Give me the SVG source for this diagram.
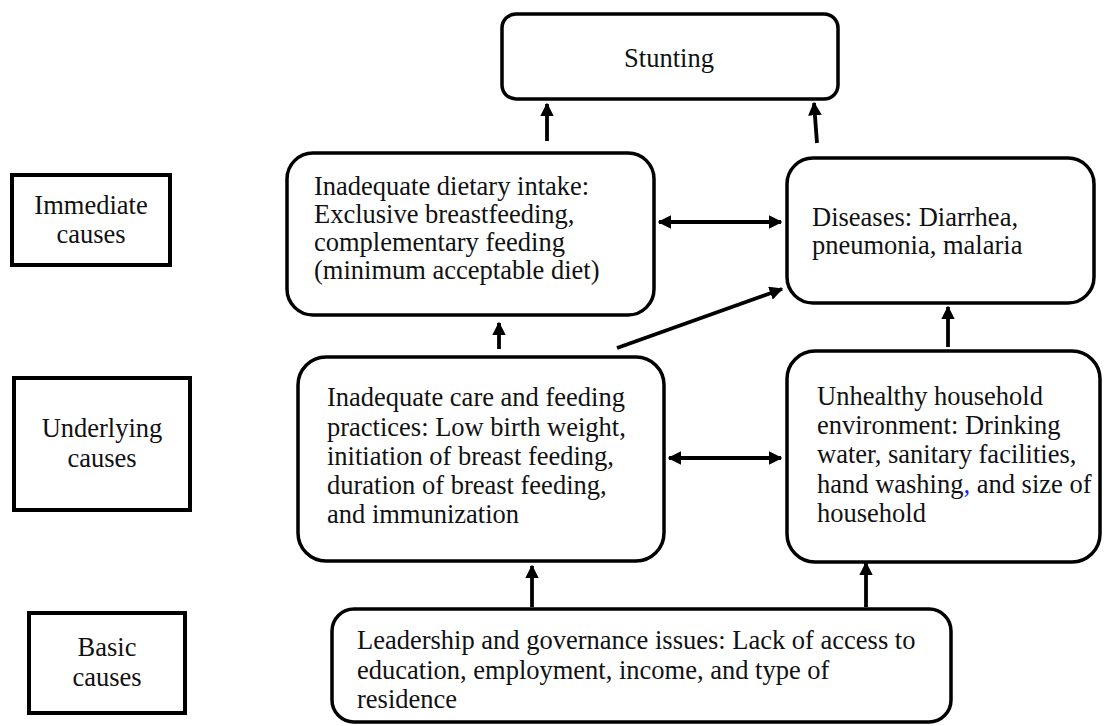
<svg xmlns="http://www.w3.org/2000/svg" width="1109" height="726" viewBox="0 0 1109 726">
<defs>
<marker id="ah" viewBox="0 0 10 10" refX="9" refY="5" markerWidth="3.6" markerHeight="3.6" orient="auto-start-reverse" markerUnits="strokeWidth">
<path d="M0,0 L10,5 L0,10 z" fill="#000"/>
</marker>
<style>
.box{fill:#fff;stroke:#000;stroke-width:3.5}
.lbl{fill:#fff;stroke:#000;stroke-width:4}
text{font-family:"Liberation Serif","Times New Roman",serif;font-size:26.5px;fill:#111}
.c{text-anchor:middle}
.conn line{stroke:#000;stroke-width:3.8;marker-end:url(#ah)}
.conn line.dbl{marker-start:url(#ah)}
</style>
</defs>
<rect width="1109" height="726" fill="#fff"/>

<g id="stunting">
<rect class="box" x="502" y="14" width="336" height="85" rx="14"/>
<text class="c" x="669" y="67">Stunting</text>
</g>

<g id="immediate-causes">
<rect class="lbl" x="12" y="175" width="158" height="90"/>
<text class="c" x="91" y="214">Immediate</text>
<text class="c" x="91" y="243">causes</text>
</g>

<g id="underlying-causes">
<rect class="lbl" x="14" y="378" width="176" height="132"/>
<text class="c" x="102" y="437">Underlying</text>
<text class="c" x="102" y="467">causes</text>
</g>

<g id="basic-causes">
<rect class="lbl" x="29" y="613" width="156" height="100"/>
<text class="c" x="107" y="656">Basic</text>
<text class="c" x="107" y="686">causes</text>
</g>

<g id="dietary">
<rect class="box" x="287" y="153" width="367" height="162" rx="26"/>
<text x="314" y="195">Inadequate dietary intake:</text>
<text x="314" y="223">Exclusive breastfeeding,</text>
<text x="314" y="251">complementary feeding</text>
<text x="314" y="279">(minimum acceptable diet)</text>
</g>

<g id="diseases">
<rect class="box" x="787" y="158" width="307" height="145" rx="26"/>
<text x="812" y="226">Diseases: Diarrhea,</text>
<text x="812" y="254">pneumonia, malaria</text>
</g>

<g id="care">
<rect class="box" x="298" y="357" width="366" height="204" rx="28"/>
<text x="327" y="406">Inadequate care and feeding</text>
<text x="327" y="436">practices: Low birth weight,</text>
<text x="327" y="465">initiation of breast feeding,</text>
<text x="327" y="494">duration of breast feeding,</text>
<text x="327" y="523">and immunization</text>
</g>

<g id="household">
<rect class="box" x="787" y="351" width="313" height="211" rx="28"/>
<text x="817" y="405">Unhealthy household</text>
<text x="817" y="434">environment: Drinking</text>
<text x="817" y="463">water, sanitary facilities,</text>
<text x="817" y="493">hand washing<tspan fill="#1a1aff">,</tspan> and size of</text>
<text x="817" y="522">household</text>
</g>

<g id="leadership">
<rect class="box" x="332" y="609" width="619" height="113" rx="22"/>
<text x="357" y="649">Leadership and governance issues: Lack of access to</text>
<text x="357" y="679">education, employment, income, and type of</text>
<text x="357" y="708">residence</text>
</g>

<g id="connectors" class="conn">
<line x1="547" y1="141" x2="547" y2="104"/>
<line x1="817" y1="143" x2="814" y2="103"/>
<line class="dbl" x1="659" y1="222" x2="781" y2="222"/>
<line x1="499" y1="349" x2="499" y2="323"/>
<line x1="617" y1="348" x2="782" y2="289"/>
<line x1="948" y1="347" x2="948" y2="307"/>
<line class="dbl" x1="669" y1="458" x2="781" y2="458"/>
<line x1="532" y1="607" x2="532" y2="566"/>
<line x1="866" y1="607" x2="866" y2="563"/>
</g>
</svg>
